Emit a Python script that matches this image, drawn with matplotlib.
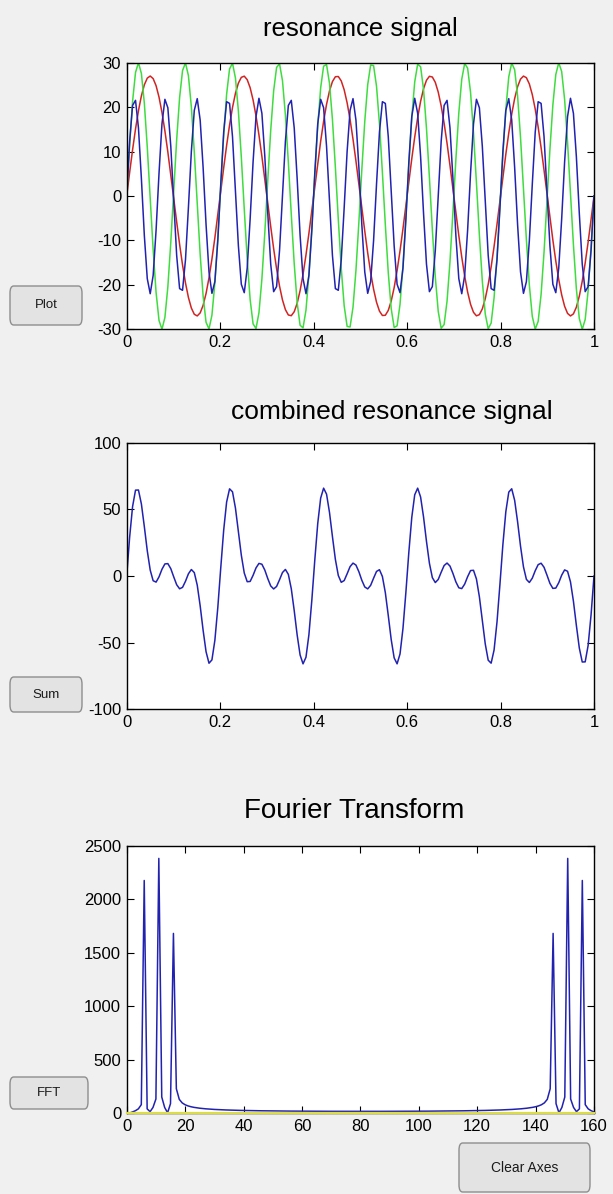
import numpy as np
import matplotlib.pyplot as plt
from matplotlib.patches import FancyBboxPatch
from matplotlib.ticker import FormatStrFormatter

plt.rcParams['font.family'] = ['Liberation Sans', 'DejaVu Sans']
plt.rcParams['axes.unicode_minus'] = False

# signal parameters
freqs = [5, 10, 15]            # Hz
amps = [27, 30, 22]
line_colors = ['#d02424', '#3fdc3f', '#2222b0']
n_samples = 160

# button labels and where they sit (pixels in the 613x1194 window)
buttons = ['Plot', 'Sum', 'FFT', 'Clear Axes']
button_boxes = [(10, 286, 72, 39), (10, 677, 72, 35), (10, 1077, 78, 32), (459, 1143, 131, 49)]

W, H = 613, 1194
bg = '#f0f0f0'

t = np.linspace(0, 1, n_samples)
signals = [a * np.sin(2 * np.pi * f * t) for a, f in zip(amps, freqs)]
combined = np.sum(signals, axis=0)
spectrum = np.abs(np.fft.fft(combined))
bins = np.arange(1, n_samples + 1)

fig = plt.figure(figsize=(W / 100, H / 100), dpi=100, facecolor=bg)

def px_axes(left, top, right, bottom):
    return fig.add_axes([left / W, 1 - bottom / H, (right - left) / W, (bottom - top) / H])

def style(ax):
    ax.set_facecolor('white')
    ax.tick_params(direction='in', top=True, right=True, length=5, width=0.8,
                   labelsize=12, pad=4, colors='black')
    for s in ax.spines.values():
        s.set_linewidth(1.0)
        s.set_color('black')

# resonance signals
ax1 = px_axes(126.7, 62.7, 594, 329.3)
for sig, c in zip(signals, line_colors):
    ax1.plot(t, sig, color=c, lw=1.1)
ax1.set_xlim(0, 1)
ax1.set_ylim(-30, 30)
ax1.set_xticks(np.arange(0, 1.01, 0.2))
ax1.set_yticks(np.arange(-30, 31, 10))
ax1.xaxis.set_major_formatter(FormatStrFormatter('%g'))
ax1.set_title('resonance signal', fontsize=18.5, pad=19)
style(ax1)

# sum of the three
ax2 = px_axes(126.7, 442.7, 594, 709.3)
ax2.plot(t, combined, color=line_colors[2], lw=1.1)
ax2.set_xlim(0, 1)
ax2.set_ylim(-100, 100)
ax2.set_xticks(np.arange(0, 1.01, 0.2))
ax2.set_yticks(np.arange(-100, 101, 50))
ax2.xaxis.set_major_formatter(FormatStrFormatter('%g'))
ax2.set_title('combined resonance signal', fontsize=19, pad=17, x=0.568)
style(ax2)

# magnitude of the fft
ax3 = px_axes(126.7, 846, 594, 1113)
ax3.plot(bins, spectrum, color=line_colors[2], lw=1.1)
ax3.axhline(0, color='#dcdc48', lw=1.6, zorder=4, clip_on=False)
ax3.set_xlim(0, 160)
ax3.set_ylim(0, 2500)
ax3.set_xticks(np.arange(0, 161, 20))
ax3.set_yticks(np.arange(0, 2501, 500))
ax3.set_title('Fourier Transform', fontsize=20, pad=20, x=0.486)
style(ax3)

# GUI push buttons
for label, (x, y, w, h) in zip(buttons, button_boxes):
    box = FancyBboxPatch((x / W, 1 - (y + h) / H), w / W, h / H,
                         boxstyle='round,pad=0,rounding_size=0.006',
                         transform=fig.transFigure, facecolor='#e3e3e3',
                         edgecolor='#8e8e8e', lw=1.0)
    fig.patches.append(box)
    fig.text((x + w / 2) / W, 1 - (y + h / 2) / H, label, ha='center', va='center',
             fontsize=9.5 if label != 'Clear Axes' else 10, color='#1a1a1a')

fig.savefig('out.png', dpi=100, facecolor=bg)
